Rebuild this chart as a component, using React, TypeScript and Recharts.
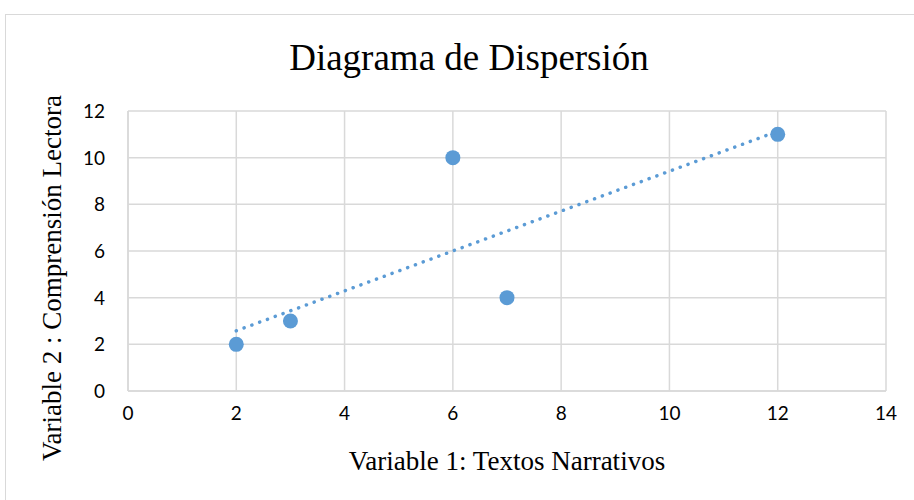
import React from 'react';
import { ScatterChart, Scatter, XAxis, YAxis, CartesianGrid, Label } from 'recharts';

const xValues = [2, 3, 6, 7, 12];
const yValues = [2, 3, 10, 4, 11];
const trendX = [2, 12];
const trendY = [2.58, 11.13];
const xTicks = [0, 2, 4, 6, 8, 10, 12, 14];
const yTicks = [0, 2, 4, 6, 8, 10, 12];
const title = 'Diagrama de Dispersión';
const xTitle = 'Variable 1: Textos Narrativos';
const yTitle = 'Variable 2 : Comprensión Lectora';

const points = xValues.map((x, i) => ({ x, y: yValues[i] }));
const trend = trendX.map((x, i) => ({ x, y: trendY[i] }));

const BLUE = '#5b9bd5';
const GRID = '#d9d9d9';
const SERIF = '"Liberation Serif", "Times New Roman", serif';
const SANS = 'Lato, "Open Sans", sans-serif';

const Dot = (props: any) => {
  const { cx, cy } = props;
  if (cx == null || cy == null) return null;
  return <circle cx={cx} cy={cy} r={7.5} fill={BLUE} />;
};

const XTick = (props: any) => {
  const { x, y, payload } = props;
  return (
    <text x={x} y={y + 29} textAnchor="middle" style={{ fontFamily: SANS, fontSize: 19, fill: '#000' }}>
      {payload.value}
    </text>
  );
};

const YTick = (props: any) => {
  const { x, y, payload } = props;
  return (
    <text x={x - 23} y={y + 7} textAnchor="end" style={{ fontFamily: SANS, fontSize: 19, fill: '#000' }}>
      {payload.value}
    </text>
  );
};

const XTitle = (props: any) => {
  const vb = props.viewBox;
  return (
    <text x={vb.x + vb.width / 2} y={vb.y + 79} textAnchor="middle"
      style={{ fontFamily: SERIF, fontSize: 27, fill: '#000' }}>
      {xTitle}
    </text>
  );
};

const YTitle = (props: any) => {
  const vb = props.viewBox;
  const cx = vb.x + 61;
  const cy = vb.y + vb.height / 2 + 27;
  return (
    <text x={cx} y={cy} textAnchor="middle" transform={`rotate(-90, ${cx}, ${cy})`}
      style={{ fontFamily: SERIF, fontSize: 27, fill: '#000' }}>
      {yTitle}
    </text>
  );
};

export default function App() {
  return (
    <div style={{ position: 'absolute', left: 0, top: 0, width: 914, height: 500, overflow: 'hidden', background: '#fff' }}>
      <div style={{ position: 'absolute', left: 5, top: 14, width: 940, height: 520, border: `1.5px solid ${GRID}` }} />
      <div style={{ position: 'absolute', left: 0, top: 35, width: 938, textAlign: 'center', fontFamily: SERIF, fontSize: 37, color: '#000', lineHeight: '46px' }}>
        {title}
      </div>
      <div style={{ position: 'absolute', left: 0, top: 0 }}>
        <ScatterChart width={914} height={500} margin={{ top: 111, right: 28, bottom: 0, left: 0 }}>
          <CartesianGrid stroke={GRID} strokeWidth={1.5} />
          <XAxis type="number" dataKey="x" domain={[0, 14]} ticks={xTicks} height={109}
            tickLine={false} tickSize={0} tickMargin={0} axisLine={{ stroke: GRID, strokeWidth: 1.5 }}
            tick={<XTick />} interval={0} allowDataOverflow>
            <Label content={<XTitle />} />
          </XAxis>
          <YAxis type="number" dataKey="y" domain={[0, 12]} ticks={yTicks} width={128}
            tickLine={false} tickSize={0} tickMargin={0} axisLine={{ stroke: GRID, strokeWidth: 1.5 }}
            tick={<YTick />} interval={0} allowDataOverflow>
            <Label content={<YTitle />} />
          </YAxis>
          <Scatter data={points} shape={<Dot />} isAnimationActive={false} />
          <Scatter data={trend} shape={() => null} isAnimationActive={false}
            line={{ stroke: BLUE, strokeWidth: 3.5, strokeDasharray: '0.1 8.2', strokeLinecap: 'round' }} />
        </ScatterChart>
      </div>
    </div>
  );
}
